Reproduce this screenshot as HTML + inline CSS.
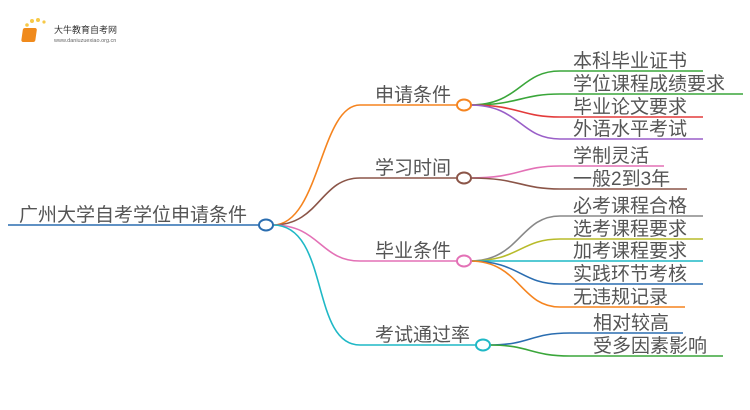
<!DOCTYPE html>
<html><head><meta charset="utf-8"><style>
html,body{margin:0;padding:0;background:#fff;width:750px;height:410px;overflow:hidden}
text{font-family:"Liberation Sans","Noto Sans CJK SC",sans-serif;fill:#555;}
</style></head><body>
<svg width="750" height="410" viewBox="0 0 750 410" xmlns="http://www.w3.org/2000/svg">
<g fill="none" stroke-width="1.6">
<line x1="8" y1="225" x2="259" y2="225" stroke="#2a6db0"/>
<path d="M273 225 C320 225 320 105 360 105 L457 105" stroke="#f5841f"/>
<path d="M273 225 C320 225 320 178 360 178 L457 178" stroke="#8b5548"/>
<path d="M273 225 C320 225 320 261 360 261 L457 261" stroke="#e371b6"/>
<path d="M273 225 C330 225 310 345 360 345 L476 345" stroke="#1fb8c6"/>
<path d="M470 105 C520 105 520 71 560 71 L703 71" stroke="#3aa63a"/>
<path d="M470 105 C520 105 520 94 560 94 L743 94" stroke="#3aa63a"/>
<path d="M470 105 C520 105 520 117 560 117 L703 117" stroke="#e33b3b"/>
<path d="M470 105 C520 105 520 139 560 139 L703 139" stroke="#9a5fc8"/>
<path d="M470 178 C520 178 520 166 560 166 L664 166" stroke="#e371b6"/>
<path d="M470 178 C520 178 520 189 560 189 L687 189" stroke="#8b5548"/>
<path d="M470 261 C520 261 520 216 560 216 L703 216" stroke="#888"/>
<path d="M470 261 C520 261 520 239 560 239 L703 239" stroke="#b8bb2a"/>
<path d="M470 261 C520 261 520 261 560 261 L703 261" stroke="#1fb8c6"/>
<path d="M470 261 C520 261 520 284 560 284 L703 284" stroke="#2a6db0"/>
<path d="M470 261 C520 261 520 307 560 307 L685 307" stroke="#f5841f"/>
<path d="M490 345 C530 345 530 333 570 333 L683 333" stroke="#2a6db0"/>
<path d="M490 345 C530 345 530 356 570 356 L723 356" stroke="#3aa63a"/>
</g>
<g fill="#fff" stroke-width="2">
<ellipse cx="266" cy="225" rx="7" ry="5.5" stroke="#2a6db0"/>
<ellipse cx="464" cy="105" rx="7" ry="5.5" stroke="#f5841f"/>
<ellipse cx="464" cy="178" rx="7" ry="5.5" stroke="#8b5548"/>
<ellipse cx="464" cy="261" rx="7" ry="5.5" stroke="#e371b6"/>
<ellipse cx="483" cy="345" rx="7" ry="5.5" stroke="#1fb8c6"/>
</g>
<g font-size="19">
<text x="19" y="221">广州大学自考学位申请条件</text>
<text x="375" y="101">申请条件</text>
<text x="375" y="174">学习时间</text>
<text x="375" y="257">毕业条件</text>
<text x="375" y="341">考试通过率</text>
<text x="573" y="67">本科毕业证书</text>
<text x="573" y="90">学位课程成绩要求</text>
<text x="573" y="113">毕业论文要求</text>
<text x="573" y="135">外语水平考试</text>
<text x="573" y="162">学制灵活</text>
<text x="573" y="185">一般2到3年</text>
<text x="573" y="212">必考课程合格</text>
<text x="573" y="235">选考课程要求</text>
<text x="573" y="257">加考课程要求</text>
<text x="573" y="280">实践环节考核</text>
<text x="573" y="303">无违规记录</text>
<text x="593" y="329">相对较高</text>
<text x="593" y="352">受多因素影响</text>
</g>
<g>
<circle cx="25" cy="31" r="1.5" fill="#f7c948"/><circle cx="27" cy="25" r="1.8" fill="#f7c948"/>
<circle cx="32" cy="21" r="2" fill="#f7c948"/><circle cx="38" cy="20" r="2" fill="#f7c948"/>
<circle cx="44" cy="22" r="1.6" fill="#f7c948"/>
<rect x="27" y="28" width="14" height="14" rx="2" fill="#f08a1c" transform="skewX(-8)"/>
<text x="54" y="33" font-size="9" style="fill:#333">大牛教育自考网</text>
<text x="54" y="42" font-size="5.5" style="fill:#666">www.daniuzuexiao.org.cn</text>
</g>
</svg>
</body></html>
